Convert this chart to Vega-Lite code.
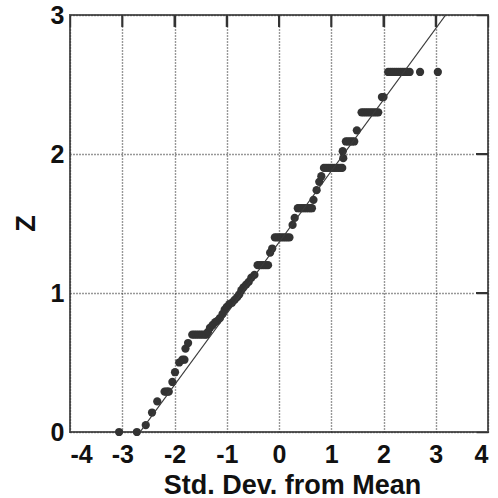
{
  "$schema": "https://vega.github.io/schema/vega-lite/v6.json",
  "width": 418,
  "height": 417,
  "autosize": "none",
  "padding": {"left": 70, "top": 15, "right": 10, "bottom": 66},
  "background": "white",
  "config": {
    "view": {"stroke": "#5a5a5a", "strokeWidth": 2},
    "axis": {
      "labelFont": "Liberation Sans",
      "labelFontWeight": "bold",
      "labelFontSize": 25,
      "labelColor": "#111",
      "titleFont": "Liberation Sans",
      "titleFontWeight": "bold",
      "titleFontSize": 27,
      "titleColor": "#111",
      "domain": false
    }
  },
  "datasets": {
    "pts": [
      {"x": -3.06, "z": 0}, {"x": -2.72, "z": 0}, {"x": -2.55, "z": 0.05}, {"x": -2.43, "z": 0.14}, {"x": -2.33, "z": 0.22},
      {"x": -2.19, "z": 0.29}, {"x": -2.16, "z": 0.29}, {"x": -2.13, "z": 0.29}, {"x": -2.11, "z": 0.29},
      {"x": -2.04, "z": 0.36}, {"x": -1.99, "z": 0.43}, {"x": -1.91, "z": 0.5}, {"x": -1.85, "z": 0.52}, {"x": -1.81, "z": 0.52}, {"x": -1.79, "z": 0.6}, {"x": -1.74, "z": 0.64},
      {"x": -1.66, "z": 0.7}, {"x": -1.62, "z": 0.7}, {"x": -1.58, "z": 0.7}, {"x": -1.54, "z": 0.7}, {"x": -1.5, "z": 0.7}, {"x": -1.46, "z": 0.7}, {"x": -1.42, "z": 0.7}, {"x": -1.39, "z": 0.7},
      {"x": -1.36, "z": 0.72}, {"x": -1.32, "z": 0.75}, {"x": -1.27, "z": 0.77}, {"x": -1.22, "z": 0.79}, {"x": -1.18, "z": 0.8}, {"x": -1.13, "z": 0.82}, {"x": -1.08, "z": 0.85}, {"x": -1.04, "z": 0.88}, {"x": -1.0, "z": 0.9}, {"x": -0.95, "z": 0.92}, {"x": -0.9, "z": 0.93}, {"x": -0.85, "z": 0.95}, {"x": -0.8, "z": 0.97}, {"x": -0.76, "z": 0.99}, {"x": -0.72, "z": 1.02}, {"x": -0.68, "z": 1.04}, {"x": -0.63, "z": 1.06}, {"x": -0.58, "z": 1.08}, {"x": -0.53, "z": 1.11}, {"x": -0.47, "z": 1.13},
      {"x": -0.41, "z": 1.2}, {"x": -0.37, "z": 1.2}, {"x": -0.33, "z": 1.2}, {"x": -0.29, "z": 1.2}, {"x": -0.25, "z": 1.2}, {"x": -0.21, "z": 1.2},
      {"x": -0.17, "z": 1.29}, {"x": -0.13, "z": 1.32},
      {"x": -0.08, "z": 1.4}, {"x": -0.04, "z": 1.4}, {"x": 0.0, "z": 1.4}, {"x": 0.04, "z": 1.4}, {"x": 0.08, "z": 1.4}, {"x": 0.12, "z": 1.4}, {"x": 0.16, "z": 1.4}, {"x": 0.2, "z": 1.4},
      {"x": 0.26, "z": 1.49}, {"x": 0.3, "z": 1.54},
      {"x": 0.36, "z": 1.61}, {"x": 0.4, "z": 1.61}, {"x": 0.44, "z": 1.61}, {"x": 0.48, "z": 1.61}, {"x": 0.52, "z": 1.61}, {"x": 0.56, "z": 1.61}, {"x": 0.6, "z": 1.61}, {"x": 0.63, "z": 1.61},
      {"x": 0.66, "z": 1.67}, {"x": 0.72, "z": 1.74}, {"x": 0.77, "z": 1.8}, {"x": 0.81, "z": 1.84},
      {"x": 0.86, "z": 1.9}, {"x": 0.9, "z": 1.9}, {"x": 0.94, "z": 1.9}, {"x": 0.98, "z": 1.9}, {"x": 1.02, "z": 1.9}, {"x": 1.06, "z": 1.9}, {"x": 1.1, "z": 1.9}, {"x": 1.14, "z": 1.9}, {"x": 1.18, "z": 1.9}, {"x": 1.21, "z": 1.9},
      {"x": 1.23, "z": 1.97}, {"x": 1.22, "z": 2.02},
      {"x": 1.28, "z": 2.09}, {"x": 1.32, "z": 2.09}, {"x": 1.36, "z": 2.09}, {"x": 1.4, "z": 2.09}, {"x": 1.44, "z": 2.09},
      {"x": 1.49, "z": 2.17},
      {"x": 1.58, "z": 2.3}, {"x": 1.62, "z": 2.3}, {"x": 1.66, "z": 2.3}, {"x": 1.7, "z": 2.3}, {"x": 1.74, "z": 2.3}, {"x": 1.78, "z": 2.3}, {"x": 1.82, "z": 2.3}, {"x": 1.86, "z": 2.3}, {"x": 1.9, "z": 2.3},
      {"x": 1.97, "z": 2.41}, {"x": 2.0, "z": 2.41},
      {"x": 2.09, "z": 2.59}, {"x": 2.13, "z": 2.59}, {"x": 2.17, "z": 2.59}, {"x": 2.21, "z": 2.59}, {"x": 2.25, "z": 2.59}, {"x": 2.29, "z": 2.59}, {"x": 2.33, "z": 2.59}, {"x": 2.37, "z": 2.59}, {"x": 2.41, "z": 2.59}, {"x": 2.45, "z": 2.59}, {"x": 2.5, "z": 2.59},
      {"x": 2.7, "z": 2.59}, {"x": 3.04, "z": 2.59}
    ],
    "fit": [
      {"x": -2.66, "z": 0},
      {"x": 3.19, "z": 3}
    ],
    "topticks": [{"t": -3}, {"t": -2}, {"t": -1}, {"t": 0}, {"t": 1}, {"t": 2}, {"t": 3}],
    "rightticks": [{"t": 1}, {"t": 2}]
  },
  "layer": [
    {
      "data": {"name": "pts"},
      "mark": {"type": "circle", "size": 68, "opacity": 1, "color": "#333333"},
      "encoding": {
        "x": {
          "field": "x", "type": "quantitative",
          "scale": {"domain": [-4, 4], "nice": false, "zero": false},
          "axis": {
            "orient": "bottom",
            "values": [-4, -3, -2, -1, 0, 1, 2, 3, 4],
            "ticks": false, "tickSize": 0,
            "labelPadding": 10,
            "labelExpr": "datum.value < 0 ? '-' + abs(datum.value) : '' + datum.value",
            "grid": true, "gridColor": "#333", "gridWidth": 1.4, "gridOpacity": 1,
            "gridDash": [12, 2,
              1,2,1,2,1,2,1,2,1,2,1,2,1,2,1,2,1,2,1,2,
              1,2,1,2,1,2,1,2,1,2,1,2,1,2,1,2,1,2,1,2,
              1,2,1,2,1,2,1,2,1,2,1,2,1,2,1,2,1,2,1,2,
              1,2,1,2,1,2,1,2,1,2,1,2,1,2,1,2,1,2,1,2,
              1,2,1,2,1,2,1,2,1,2,1,2,1,2,1,2,1,2,1,2,
              1,2,1,2,1,2,1,2,1,2,1,2,1,2,1,2,1,2,1,2,
              1,2,1,2,1,2,1,2,1,2,1,2,1,2,1,2,1,2,1,2,
              1,2,1,2,1,2,1,2,1,2,1,2,1,2,1,2,1,2,1,2,
              1,2,1,2,1,2,1,2,1,2,1,2,1,2,1,2,1,2,1,2,
              1,2,1,2,1,2,1,2,1,2,1,2,1,2,1,2,1,2,1,2,
              1,2,1,2,1,2,1,2,1,2,1,2,1,2,1,2,1,2,1,2,
              1,2,1,2,1,2,1,2,1,2,1,2,1,2,1,2,1,2,1,2,
              1,2,1,2,1,2,1,2,1,2,1,2,1,2,1,2,1,2,1,2,
              1,2,1,2,1,2,1,2,1,2],
            "title": "Std. Dev. from Mean",
            "titleX": 222, "titleY": 61, "titleBaseline": "alphabetic", "titleAlign": "center", "titleAnchor": null
          }
        },
        "y": {
          "field": "z", "type": "quantitative",
          "scale": {"domain": [0, 3], "nice": false},
          "axis": {
            "orient": "left",
            "values": [0, 1, 2, 3],
            "format": "d",
            "ticks": false, "tickSize": 0,
            "labelPadding": 6,
            "grid": true, "gridColor": "#333", "gridWidth": 1.4, "gridOpacity": 1,
            "gridDash": [
              1,2,1,2,1,2,1,2,1,2,1,2,1,2,1,2,1,2,1,2,
              1,2,1,2,1,2,1,2,1,2,1,2,1,2,1,2,1,2,1,2,
              1,2,1,2,1,2,1,2,1,2,1,2,1,2,1,2,1,2,1,2,
              1,2,1,2,1,2,1,2,1,2,1,2,1,2,1,2,1,2,1,2,
              1,2,1,2,1,2,1,2,1,2,1,2,1,2,1,2,1,2,1,2,
              1,2,1,2,1,2,1,2,1,2,1,2,1,2,1,2,1,2,1,2,
              1,2,1,2,1,2,1,2,1,2,1,2,1,2,1,2,1,2,1,2,
              1,2,1,2,1,2,1,2,1,2,1,2,1,2,1,2,1,2,1,2,
              1,2,1,2,1,2,1,2,1,2,1,2,1,2,1,2,1,2,1,2,
              1,2,1,2,1,2,1,2,1,2,1,2,1,2,1,2,1,2,1,2,
              1,2,1,2,1,2,1,2,1,2,1,2,1,2,1,2,1,2,1,2,
              1,2,1,2,1,2,1,2,1,2,1,2,1,2,1,2,1,2,1,2,
              1,2,1,2,1,2,1,2,1,2,1,2,1,2,1,2,1,2,1,2,
              1,2,1,2,1,2,1,2,
              1,3,13,2],
            "title": "Z",
            "titleX": -36, "titleY": 208, "titleAngle": -90, "titleBaseline": "alphabetic", "titleAlign": "center", "titleAnchor": null
          }
        }
      }
    },
    {
      "data": {"name": "fit"},
      "mark": {"type": "line", "color": "#3a3a3a", "strokeWidth": 1.2, "clip": true},
      "encoding": {
        "x": {"field": "x", "type": "quantitative", "axis": null},
        "y": {"field": "z", "type": "quantitative", "axis": null}
      }
    },
    {
      "data": {"name": "topticks"},
      "mark": {"type": "rule", "color": "#333333", "strokeWidth": 2},
      "encoding": {
        "x": {"field": "t", "type": "quantitative", "axis": null},
        "y": {"datum": 3, "type": "quantitative", "axis": null},
        "y2": {"datum": 2.914}
      }
    },
    {
      "data": {"name": "rightticks"},
      "mark": {"type": "rule", "color": "#333333", "strokeWidth": 2},
      "encoding": {
        "y": {"field": "t", "type": "quantitative", "axis": null},
        "x": {"datum": 4, "type": "quantitative", "axis": null},
        "x2": {"datum": 3.77}
      }
    }
  ],
  "resolve": {"axis": {"x": "independent", "y": "independent"}}
}
